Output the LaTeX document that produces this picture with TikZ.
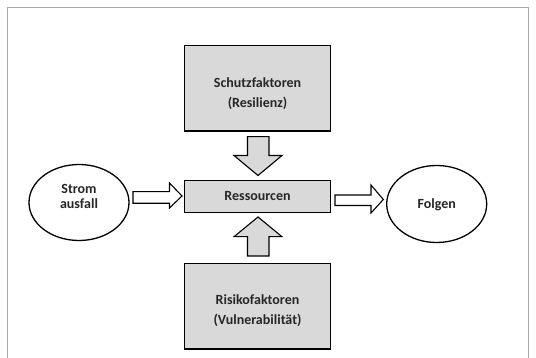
\documentclass[tikz,border=0pt]{standalone}
\usepackage{fontspec}
\setmainfont{Carlito}
\usetikzlibrary{shapes.geometric}
\definecolor{boxgray}{RGB}{217,217,217}
\definecolor{framegray}{RGB}{170,170,170}
\begin{document}
\begin{tikzpicture}[x=1pt,y=-1pt,
  box/.style={draw=black,line width=1.4pt,fill=boxgray,minimum width=146pt,inner sep=0pt},
  oval/.style={draw=black,line width=1.3pt,ellipse,minimum width=100pt,minimum height=76pt,inner sep=0pt},
  lbl/.style={font=\bfseries\fontsize{14pt}{20pt}\selectfont,align=center,inner sep=0pt,text=black!85},
  blockarrow/.style={draw=black,line width=1.1pt,line join=miter}]
\useasboundingbox (0,0) rectangle (536,358);
\clip (0,0) rectangle (536,358);
\fill[white] (0,0) rectangle (536,358);
% frame
\draw[framegray,line width=0.9pt] (7.5,380) -- (7.5,7.5) -- (528,7.5) -- (528,380);
% boxes
\node[box,minimum height=85.3pt] (schutz) at (257.5,88.3) {};
\node[lbl] (schutzt) at (257.5,93.3) {Schutzfaktoren\\(Resilienz)};
\node[box,minimum height=32pt] (res) at (257.5,196.8) {};
\node[lbl] (rest) at (257.5,196.3) {Ressourcen};
\node[box,minimum height=85.3pt] (risiko) at (257.5,306.2) {};
\node[lbl] (risikot) at (257.5,311) {Risikofaktoren\\(Vulnerabilität)};
% ellipses
\node[oval] (strom) at (79,202.5) {};
\node[lbl,font=\bfseries\fontsize{14pt}{15pt}\selectfont] (stromt) at (79,196.5) {Strom\\ausfall};
\node[oval,minimum height=77pt] (folgen) at (436.7,204) {};
\node[lbl] (folgent) at (436.7,204.5) {Folgen};
% block arrows
\draw[blockarrow,fill=boxgray] (247.5,136.7) -- (269,136.7) -- (269,155.5) -- (282,155.5) -- (258,175.5) -- (234,155.5) -- (247.5,155.5) -- cycle;
\draw[blockarrow,fill=boxgray] (258,217) -- (282,236.7) -- (269,236.7) -- (269,256) -- (247.5,256) -- (247.5,236.7) -- (234,236.7) -- cycle;
\draw[blockarrow,fill=white] (133,191.7) -- (169.5,191.7) -- (169.5,183) -- (182,196) -- (169.5,208) -- (169.5,203.3) -- (133,203.3) -- cycle;
\draw[blockarrow,fill=white] (335,195) -- (371,195) -- (371,185) -- (383.3,199.5) -- (371,213) -- (371,205.5) -- (335,205.5) -- cycle;
\end{tikzpicture}
\end{document}
